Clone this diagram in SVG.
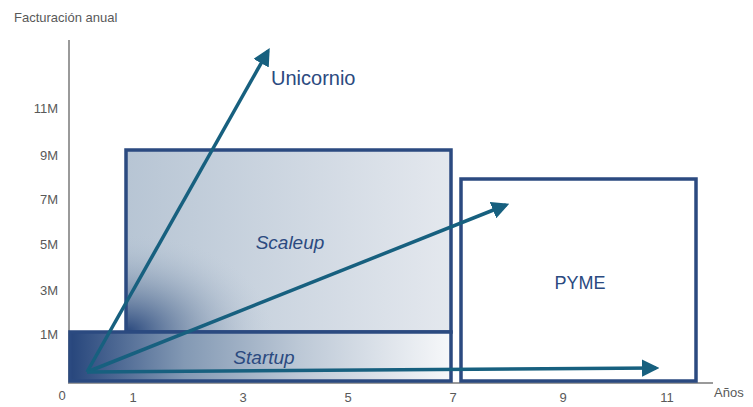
<svg xmlns="http://www.w3.org/2000/svg" width="753" height="407" viewBox="0 0 753 407">
<style>
.ax{font-family:"Liberation Sans",Arial,sans-serif;font-size:13px;fill:#595959}
.lbl{font-family:"Liberation Sans",Arial,sans-serif;fill:#2b4a80}
.box{stroke:#2b4a80;stroke-width:3.5}
.arr{stroke:#17607f;stroke-width:3.5;fill:none;marker-end:url(#ah)}
.axis{stroke:#9a9a9a;stroke-width:2;fill:none}
</style>
<defs>
<marker id="ah" viewBox="0 0 10 10" refX="8" refY="5" markerWidth="5" markerHeight="5" orient="auto" markerUnits="strokeWidth">
<path d="M0,0 L10,5 L0,10 Z" fill="#17607f"/>
</marker>
<linearGradient id="gStart" x1="0" y1="0" x2="1" y2="0">
<stop offset="0" stop-color="#27467c"/>
<stop offset="0.3" stop-color="#8399b4"/>
<stop offset="0.6" stop-color="#bcc8d6"/>
<stop offset="1" stop-color="#f7f8fa"/>
</linearGradient>
<linearGradient id="gScale" x1="0" y1="0" x2="1" y2="0">
<stop offset="0" stop-color="#b7c5d4"/>
<stop offset="1" stop-color="#e4e8ee"/>
</linearGradient>
<radialGradient id="gScaleDark" cx="0" cy="1" r="0.45" gradientUnits="objectBoundingBox" gradientTransform="translate(0,1) scale(1,1.2) translate(0,-1)">
<stop offset="0" stop-color="#27467c" stop-opacity="1"/>
<stop offset="0.45" stop-color="#5d7699" stop-opacity="0.5"/>
<stop offset="1" stop-color="#b7c5d4" stop-opacity="0"/>
</radialGradient>
</defs>
<rect width="753" height="407" fill="#ffffff"/>
<g id="axes">
<path class="axis" d="M69,40 V383 H713"/>
<text class="ax" x="14" y="22" font-size="12">Facturación anual</text>
<text class="ax" x="714" y="397">Años</text>
<g text-anchor="end">
<text class="ax" x="58" y="113">11M</text>
<text class="ax" x="58" y="160">9M</text>
<text class="ax" x="58" y="204">7M</text>
<text class="ax" x="58" y="249">5M</text>
<text class="ax" x="58" y="295">3M</text>
<text class="ax" x="58" y="339">1M</text>
</g>
<g text-anchor="middle">
<text class="ax" x="62" y="400">0</text>
<text class="ax" x="133" y="402">1</text>
<text class="ax" x="243" y="402">3</text>
<text class="ax" x="348" y="402">5</text>
<text class="ax" x="453" y="402">7</text>
<text class="ax" x="563" y="402">9</text>
<text class="ax" x="667" y="402">11</text>
</g>
</g>
<g id="scaleup">
<rect x="126" y="150" width="325" height="182" fill="url(#gScale)"/>
<rect x="126" y="150" width="325" height="182" fill="url(#gScaleDark)"/>
<rect class="box" x="126" y="150" width="325" height="182" fill="none"/>
<text class="lbl" x="290" y="249" font-size="19" font-style="italic" text-anchor="middle">Scaleup</text>
</g>
<g id="startup">
<rect class="box" x="70" y="332" width="381" height="49" fill="url(#gStart)"/>
<text class="lbl" x="264" y="364" font-size="19" font-style="italic" text-anchor="middle">Startup</text>
</g>
<g id="pyme">
<rect class="box" x="461" y="179" width="235" height="202" fill="#ffffff"/>
<text class="lbl" x="580" y="289" font-size="18" text-anchor="middle">PYME</text>
</g>
<g id="unicornio">
<text class="lbl" x="271" y="85" font-size="20">Unicornio</text>
</g>
<g id="connectors">
<line class="arr" x1="87" y1="372" x2="268" y2="51"/>
<line class="arr" x1="87" y1="372" x2="506" y2="205"/>
<line class="arr" x1="87" y1="372" x2="656" y2="368"/>
</g>
</svg>
